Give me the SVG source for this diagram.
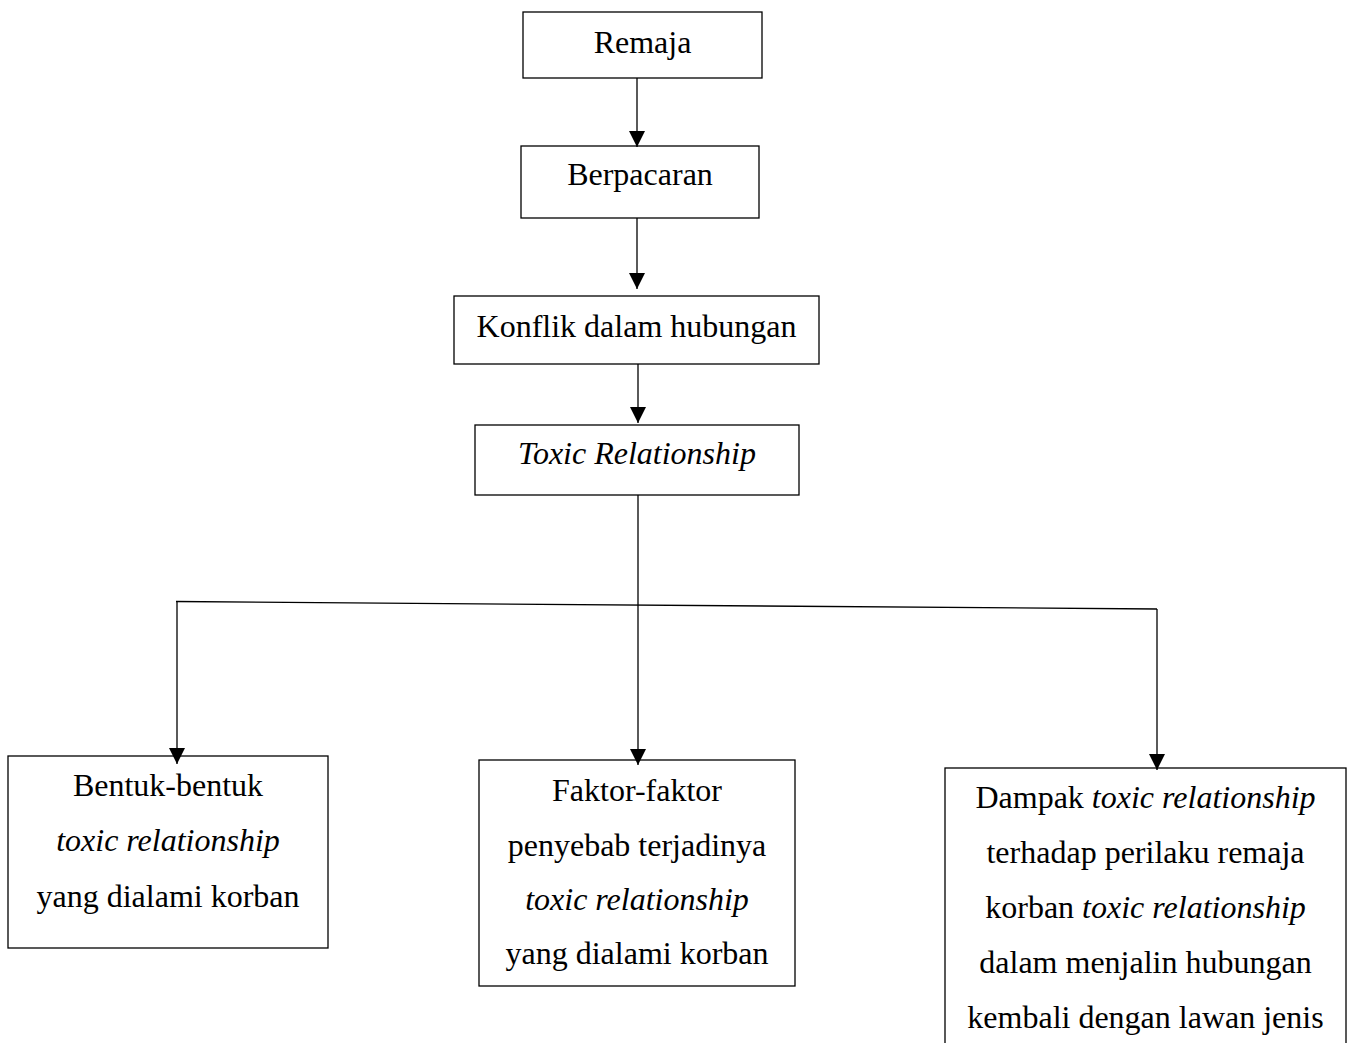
<svg xmlns="http://www.w3.org/2000/svg" width="1352" height="1043" viewBox="0 0 1352 1043">
<style>
.box{fill:#fff;stroke:#000;stroke-width:1.3}
.t{font-family:"Liberation Serif","Times New Roman",serif;font-size:32px;fill:#000;text-anchor:middle}
.i{font-style:italic}
.c{fill:none;stroke:#000;stroke-width:1.3}
</style>
<defs>
<marker id="ah" markerUnits="userSpaceOnUse" markerWidth="16" markerHeight="16" viewBox="0 0 16 16" refX="16" refY="8" orient="auto">
<path d="M0,0 L16,8 L0,16 z" fill="#000"/>
</marker>
</defs>
<rect width="1352" height="1043" fill="#fff"/>
<g id="remaja">
<rect class="box" x="523" y="12" width="239" height="66"/>
<text class="t" x="642.5" y="53">Remaja</text>
</g>
<g id="berpacaran">
<rect class="box" x="521" y="146" width="238" height="72"/>
<text class="t" x="640" y="185">Berpacaran</text>
</g>
<g id="konflik">
<rect class="box" x="454" y="296" width="365" height="68"/>
<text class="t" x="636.5" y="337">Konflik dalam hubungan</text>
</g>
<g id="toxic">
<rect class="box" x="475" y="425" width="324" height="70"/>
<text class="t i" x="637" y="464">Toxic Relationship</text>
</g>
<g id="bentuk">
<rect class="box" x="8" y="756" width="320" height="192"/>
<text class="t" x="168" y="796">Bentuk-bentuk</text>
<text class="t i" x="168" y="851">toxic relationship</text>
<text class="t" x="168" y="907">yang dialami korban</text>
</g>
<g id="faktor">
<rect class="box" x="479" y="760" width="316" height="226"/>
<text class="t" x="637" y="801">Faktor-faktor</text>
<text class="t" x="637" y="856">penyebab terjadinya</text>
<text class="t i" x="637" y="910">toxic relationship</text>
<text class="t" x="637" y="964">yang dialami korban</text>
</g>
<g id="dampak">
<rect class="box" x="945" y="768" width="401" height="290"/>
<text class="t" x="1145.5" y="808">Dampak <tspan class="i">toxic relationship</tspan></text>
<text class="t" x="1145.5" y="863">terhadap perilaku remaja</text>
<text class="t" x="1145.5" y="918">korban <tspan class="i">toxic relationship</tspan></text>
<text class="t" x="1145.5" y="973">dalam menjalin hubungan</text>
<text class="t" x="1145.5" y="1028">kembali dengan lawan jenis</text>
</g>
<g id="connectors">
<line class="c" x1="637" y1="78" x2="637" y2="147" marker-end="url(#ah)"/>
<line class="c" x1="637" y1="218" x2="637" y2="289" marker-end="url(#ah)"/>
<line class="c" x1="638" y1="364" x2="638" y2="423" marker-end="url(#ah)"/>
<line class="c" x1="638" y1="495" x2="638" y2="765" marker-end="url(#ah)"/>
<line class="c" x1="176" y1="601.5" x2="1157" y2="609"/>
<line class="c" x1="177" y1="602" x2="177" y2="764" marker-end="url(#ah)"/>
<line class="c" x1="1157" y1="609" x2="1157" y2="770" marker-end="url(#ah)"/>
</g>
</svg>
